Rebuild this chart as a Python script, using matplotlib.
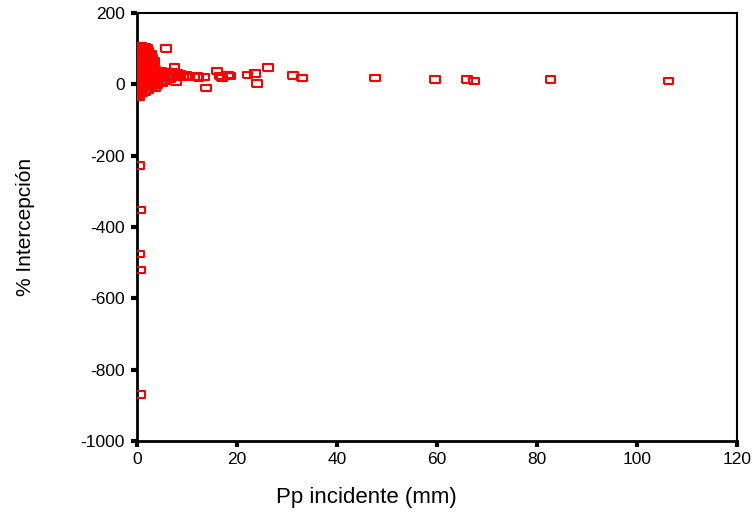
import matplotlib.pyplot as plt
import numpy as np

plt.rcParams['axes.unicode_minus'] = False

# Pp incidente (mm) and % Intercepcion
pp = [
    0.2, 0.4, 0.6, 0.9, 1.2, 1.5, 1.8, 2.1, 0.3, 0.7, 1.0, 1.4, 1.9, 2.3, 2.6,
    0.2, 0.5, 0.9, 1.3, 1.7, 2.2, 2.7, 3.0, 0.4, 0.8, 1.1, 1.6, 2.0, 2.5, 3.2,
    0.3, 0.6, 1.0, 1.5, 2.1, 2.8, 3.5, 4.0, 0.5, 0.9, 1.3, 1.8, 2.4, 3.1, 3.8,
    4.5, 5.0, 5.5, 6.2, 0.4, 1.2, 2.0, 2.9, 3.6, 4.3, 5.2, 6.0, 6.8, 7.4, 8.0,
    8.6, 9.2, 9.8, 10.5, 0.6, 1.5, 2.6, 3.4, 4.2, 5.8, 7.0, 7.5, 7.8, 5.8, 2.4,
    0.5, 1.0, 1.6, 2.2, 0.3, 0.8, 3.0, 4.0, 5.0, 12.0, 12.3, 13.4, 13.8, 16.0,
    16.5, 17.0, 18.2, 18.6, 22.1, 23.6, 24.0, 26.2, 31.2, 33.0, 47.6, 59.6, 66.0,
    67.4, 82.7, 106.3,
    0.2, 0.5, 0.8, 1.1, 0.3, 0.7, 1.2, 0.2, 0.6, 1.0, 0.4, 0.9, 1.4, 0.3, 0.8,
    1.6, 2.0, 2.8, 3.3, 1.2, 1.8, 2.4, 3.0, 3.6, 4.6, 5.4, 6.4, 7.2, 8.2, 3.0,
    0.4, 1.3, 0.7, 1.9, 3.6, 2.6, 4.8, 6.6, 2.2, 2.9, 3.4, 1.6,
    0.5, 0.6, 0.5, 0.6, 0.6,
]
interc = [
    100, 102, 98, 101, 100, 99, 101, 100, 94, 90, 96, 88, 92, 85, 80,
    80, 75, 70, 72, 65, 70, 60, 55, 60, 55, 50, 48, 52, 45, 40,
    40, 35, 38, 30, 42, 35, 30, 38, 20, 25, 15, 22, 28, 20, 25,
    30, 28, 22, 26, 5, 10, 0, 8, 12, 15, 18, 20, 25, 22, 30,
    28, 22, 25, 20, -10, -5, 2, 15, 5, 10, 35, 47, 8, 100, 85,
    -35, -25, -20, -15, -30, -12, -3, 0, 5, 22, 19, 21, -10, 38,
    24, 18, 27, 24, 26, 30, 2, 47, 25, 18, 18, 14, 14,
    9, 14, 9,
    105, 104, 106, 103, 88, 86, 78, 66, 62, 58, 48, 44, 36, 28, 30,
    62, 56, 50, 44, 34, 32, 38, 18, 40, 24, 30, 34, 28, 26, 73,
    10, 4, -2, -6, -10, 12, 36, 16, 92, 84, 64, 104,
    -228, -352, -475, -520, -870,
]

fig = plt.figure(figsize=(7.55, 5.21), dpi=100)
ax = fig.add_axes([0.1815, 0.1536, 0.7947, 0.8214])

box = [(-1.45, -1), (1.45, -1), (1.45, 1), (-1.45, 1), (-1.45, -1)]
ax.scatter(pp, interc, marker=box, s=45, facecolors='none',
           edgecolors='#ff0000', linewidths=1.5, zorder=3)

ax.set_xlim(0, 120)
ax.set_ylim(-1000, 200)
ax.set_xticks(np.arange(0, 121, 20))
ax.set_yticks(np.arange(-1000, 201, 200))

for name, s in ax.spines.items():
    s.set_linewidth(2.0 if name in ('left', 'bottom') else 1.5)
    s.set_color('black')
ax.tick_params(direction='out', length=4, width=3, labelsize=12.5,
               colors='black')
ax.tick_params(axis='y', pad=5)
ax.tick_params(axis='x', pad=4)
for lab in ax.get_xticklabels() + ax.get_yticklabels():
    lab.set_family(['Liberation Sans', 'DejaVu Sans'])

ax.set_xlabel('Pp incidente (mm)', fontsize=16,
              family=['Liberation Sans', 'DejaVu Sans'])
ax.xaxis.set_label_coords(0.383, -0.108)
ax.set_ylabel('% Intercepción', fontsize=15,
              family=['Liberation Sans Narrow', 'Liberation Sans', 'DejaVu Sans'])
ax.yaxis.set_label_coords(-0.17, 0.5)

fig.savefig('out.png', dpi=100)
